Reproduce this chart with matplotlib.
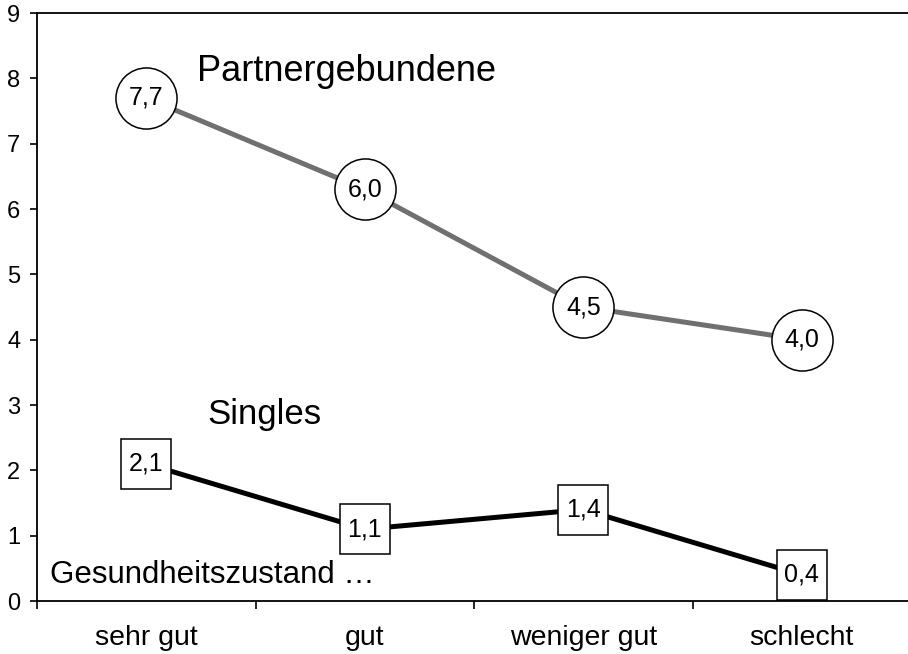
import matplotlib
matplotlib.use("Agg")
import matplotlib.pyplot as plt

plt.rcParams['font.family'] = ['Liberation Sans', 'DejaVu Sans']

# Daten
kategorien = ["sehr gut", "gut", "weniger gut", "schlecht"]
partner = [7.7, 6.3, 4.5, 4.0]
partner_labels = ["7,7", "6,0", "4,5", "4,0"]
singles = [2.1, 1.1, 1.4, 0.4]
singles_labels = ["2,1", "1,1", "1,4", "0,4"]

x = [i + 0.5 for i in range(len(kategorien))]

fig = plt.figure(figsize=(9.08, 6.54), dpi=100)
ax = fig.add_axes([37 / 908, 53 / 654, 874 / 908, 588 / 654])

# Linien mit Markern (Kreis / Quadrat)
ax.plot(x, partner, color='#707070', lw=3.6, marker='o', markersize=44,
        markerfacecolor='white', markeredgecolor='black', markeredgewidth=1.1,
        clip_on=False, zorder=3)
ax.plot(x, singles, color='black', lw=3.6, marker='s', markersize=36,
        markerfacecolor='white', markeredgecolor='black', markeredgewidth=1.1,
        clip_on=False, zorder=3)

for xi, yi, lab in zip(x, partner, partner_labels):
    ax.text(xi, yi, lab, ha='center', va='center', fontsize=18, zorder=4)
for xi, yi, lab in zip(x, singles, singles_labels):
    ax.text(xi, yi, lab, ha='center', va='center', fontsize=18, zorder=4)

ax.text(0.73, 8.1, "Partnergebundene", fontsize=26, va='center')
ax.text(0.78, 2.85, "Singles", fontsize=25, va='center')
ax.text(0.06, 0.40, "Gesundheitszustand …", fontsize=22.5, va='center')

ax.set_xlim(0, 4)
ax.set_ylim(0, 9)
ax.set_yticks(range(10))
ax.tick_params(axis='y', labelsize=17, length=5, width=1.2, pad=7, direction='out')

# Kategorien zwischen den Teilstrichen
ax.set_xticks([0, 1, 2, 3, 4])
ax.set_xticklabels([])
ax.set_xticks(x, minor=True)
ax.set_xticklabels(kategorien, minor=True)
ax.tick_params(axis='x', which='major', length=6, width=1.2, direction='out')
ax.tick_params(axis='x', which='minor', length=0, labelsize=20.5, pad=17)

for s in ['left', 'bottom', 'top']:
    ax.spines[s].set_linewidth(1.3)
ax.spines['right'].set_visible(False)

fig.savefig("out.png", dpi=100)
